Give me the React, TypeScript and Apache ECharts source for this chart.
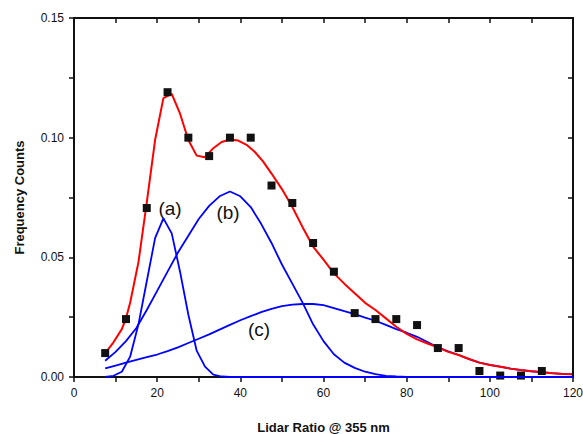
import React, { useEffect, useRef } from "react";
import * as echarts from "echarts";

// Measured histogram (bin centres and frequency counts)
const binCenters = [7.5, 12.5, 17.5, 22.5, 27.5, 32.5, 37.5, 42.5, 47.5, 52.5, 57.5, 62.5, 67.5, 72.5, 77.5, 82.5, 87.5, 92.5, 97.5, 102.5, 107.5, 112.5];
const counts = [0.010, 0.0242, 0.0706, 0.119, 0.100, 0.0923, 0.100, 0.100, 0.080, 0.0727, 0.056, 0.044, 0.0267, 0.0242, 0.0242, 0.0217, 0.0121, 0.0121, 0.0025, 0.0006, 0.0006, 0.0025];

// Total fit (red)
const fitX = [7.5, 9.5, 11.5, 12.5, 13.5, 15.5, 17.5, 19.5, 21.5, 23.5, 25.5, 27.5, 29.5, 31.5, 33.5, 35.5, 37.5, 39.5, 41.5, 43.5, 45.5, 47.5, 50, 52.5, 55, 57.5, 60, 62.5, 65, 67.5, 70, 72.5, 75, 77.5, 80, 82.5, 85, 87.5, 90, 92.5, 95, 97.5, 100, 102.5, 105, 107.5, 110, 112.5, 115, 117.5, 120];
const fitY = [0.010, 0.0145, 0.020, 0.0245, 0.031, 0.048, 0.073, 0.099, 0.1165, 0.1183, 0.110, 0.099, 0.0925, 0.0918, 0.0956, 0.0982, 0.0992, 0.0988, 0.097, 0.094, 0.090, 0.085, 0.0785, 0.071, 0.0625, 0.0545, 0.049, 0.0433, 0.039, 0.035, 0.031, 0.028, 0.0245, 0.021, 0.018, 0.0157, 0.014, 0.0124, 0.0105, 0.0092, 0.0075, 0.006, 0.005, 0.0043, 0.0035, 0.0029, 0.0024, 0.002, 0.0016, 0.0013, 0.0011];

// Mode (a)
const modeAX = [7.5, 9.5, 11.5, 13.5, 15.5, 17.5, 19.5, 21.5, 23.5, 25.5, 27.5, 29.5, 31.5, 33.5, 35.5, 37.5, 120];
const modeAY = [0.000, 0.0005, 0.0022, 0.0085, 0.022, 0.040, 0.058, 0.0663, 0.060, 0.044, 0.026, 0.011, 0.0043, 0.001, 0.0002, 0, 0];

// Mode (b)
const modeBX = [7.5, 10, 12.5, 15, 17.5, 20, 22.5, 25, 27.5, 30, 32.5, 35, 37.5, 40, 42.5, 45, 47.5, 50, 52.5, 55, 57.5, 60, 62.5, 65, 67.5, 70, 72.5, 75, 77.5, 80, 120];
const modeBY = [0.0068, 0.0105, 0.015, 0.0205, 0.028, 0.036, 0.044, 0.052, 0.059, 0.066, 0.0715, 0.0755, 0.0775, 0.0755, 0.071, 0.064, 0.056, 0.047, 0.039, 0.031, 0.022, 0.015, 0.0095, 0.006, 0.0038, 0.0022, 0.0012, 0.0005, 0.0002, 0, 0];

// Mode (c)
const modeCX = [7.5, 10, 12.5, 15, 17.5, 20, 22.5, 25, 27.5, 30, 32.5, 35, 37.5, 40, 42.5, 45, 47.5, 50, 52.5, 55, 57.5, 60, 62.5, 65, 67.5, 70, 72.5, 75, 77.5, 80, 82.5, 85, 87.5, 90, 92.5, 95, 97.5, 100, 102.5, 105, 107.5, 110, 112.5, 115, 117.5, 120];
const modeCY = [0.0036, 0.0048, 0.006, 0.0072, 0.0083, 0.0094, 0.0108, 0.0124, 0.0142, 0.016, 0.0178, 0.0198, 0.0218, 0.0237, 0.0254, 0.0271, 0.0285, 0.0296, 0.0302, 0.0305, 0.0305, 0.0300, 0.0288, 0.0275, 0.0263, 0.0248, 0.0235, 0.0218, 0.0200, 0.0185, 0.0168, 0.0146, 0.0124, 0.0107, 0.0092, 0.0075, 0.006, 0.0051, 0.0043, 0.0035, 0.0029, 0.0024, 0.002, 0.0016, 0.0013, 0.0011];

const modeLabels = ["(a)", "(b)", "(c)"];

const zip = (xs: number[], ys: number[]) => xs.map((x, i) => [x, ys[i]]);

const FONT = "Liberation Sans, Arial, sans-serif";
const INK = "#111111";

const GRID = { left: 74, right: 10, top: 18, bottom: 57 };
const W = 583;
const H = 434;

export default function App() {
  const ref = useRef<HTMLDivElement>(null);
  useEffect(() => {
    document.body.style.margin = "0";
    document.documentElement.style.overflow = "hidden";
    const chart = echarts.init(ref.current!, null, { renderer: "svg", width: W, height: H });
    const mkLine = () => ({ show: true, onZero: false, lineStyle: { color: INK, width: 2, opacity: 1 } });
    const tick = (inside: boolean) => ({ show: true, inside, length: 5, lineStyle: { color: INK, width: 1.5, opacity: 1 } });
    const labelStyle = { color: INK, fontSize: 12, fontFamily: FONT };
    chart.setOption({
      animation: false,
      backgroundColor: "#fff",
      grid: { ...GRID, containLabel: false, outerBoundsMode: "none" },
      xAxis: [
        {
          type: "value",
          min: 0,
          max: 120,
          interval: 10,
          position: "bottom",
          z: 10,
          axisLine: mkLine(),
          axisTick: tick(false),
          axisLabel: {
            ...labelStyle,
            margin: 10,
            formatter: (v: number) => (v % 20 === 0 ? String(v) : ""),
          },
          splitLine: { show: false },
          name: "Lidar Ratio @ 355 nm",
          nameLocation: "middle",
          nameGap: 44,
          nameTextStyle: { color: INK, fontSize: 13, fontWeight: "bold", fontFamily: FONT },
        },
        {
          type: "value",
          min: 0,
          max: 120,
          interval: 10,
          position: "top",
          z: 10,
          axisLine: mkLine(),
          axisTick: tick(true),
          axisLabel: { show: false },
          splitLine: { show: false },
        },
      ],
      yAxis: [
        {
          type: "value",
          min: 0,
          max: 0.15,
          interval: 0.025,
          position: "left",
          z: 10,
          axisLine: mkLine(),
          axisTick: tick(false),
          axisLabel: {
            ...labelStyle,
            margin: 10,
            formatter: (v: number) => {
              const k = Math.round(v / 0.025);
              return k % 2 === 0 ? v.toFixed(2) : "";
            },
          },
          splitLine: { show: false },
          name: "Frequency Counts",
          nameLocation: "middle",
          nameGap: 48,
          nameTextStyle: { color: INK, fontSize: 13, fontWeight: "bold", fontFamily: FONT },
        },
        {
          type: "value",
          min: 0,
          max: 0.15,
          interval: 0.025,
          position: "right",
          z: 10,
          axisLine: mkLine(),
          axisTick: tick(true),
          axisLabel: { show: false },
          splitLine: { show: false },
        },
      ],
      series: [
        {
          name: "(c)",
          type: "line",
          data: zip(modeCX, modeCY),
          showSymbol: false,
          symbol: "none",
          clip: false,
          z: 2,
          lineStyle: { color: "#0000ff", width: 1.8 },
        },
        {
          name: "fit",
          type: "line",
          data: zip(fitX, fitY),
          showSymbol: false,
          symbol: "none",
          clip: false,
          z: 3,
          lineStyle: { color: "#ff0000", width: 2 },
        },
        {
          name: "counts",
          type: "scatter",
          data: zip(binCenters, counts),
          symbol: "rect",
          symbolSize: 8,
          clip: false,
          z: 4,
          itemStyle: { color: INK, opacity: 1 },
        },
        {
          name: "(a)",
          type: "line",
          data: zip(modeAX, modeAY),
          showSymbol: false,
          symbol: "none",
          clip: false,
          z: 12,
          lineStyle: { color: "#0000ff", width: 1.8 },
        },
        {
          name: "(b)",
          type: "line",
          data: zip(modeBX, modeBY),
          showSymbol: false,
          symbol: "none",
          clip: false,
          z: 12,
          lineStyle: { color: "#0000ff", width: 1.8 },
        },
      ],
      graphic: [
        {
          type: "rect",
          z: 9,
          silent: true,
          shape: { x: GRID.left, y: GRID.top, width: W - GRID.left - GRID.right, height: H - GRID.top - GRID.bottom },
          style: { fill: "none", stroke: INK, lineWidth: 2, opacity: 1 },
        },
        { type: "text", x: 170, y: 208, style: { text: modeLabels[0], fontSize: 19, fontFamily: FONT, fill: INK, align: "center", verticalAlign: "middle" } },
        { type: "text", x: 228, y: 212, style: { text: modeLabels[1], fontSize: 19, fontFamily: FONT, fill: INK, align: "center", verticalAlign: "middle" } },
        { type: "text", x: 259, y: 329, style: { text: modeLabels[2], fontSize: 19, fontFamily: FONT, fill: INK, align: "center", verticalAlign: "middle" } },
      ],
    });
    return () => chart.dispose();
  }, []);
  return <div ref={ref} style={{ position: "absolute", left: 0, top: 0, width: W, height: H }} />;
}
